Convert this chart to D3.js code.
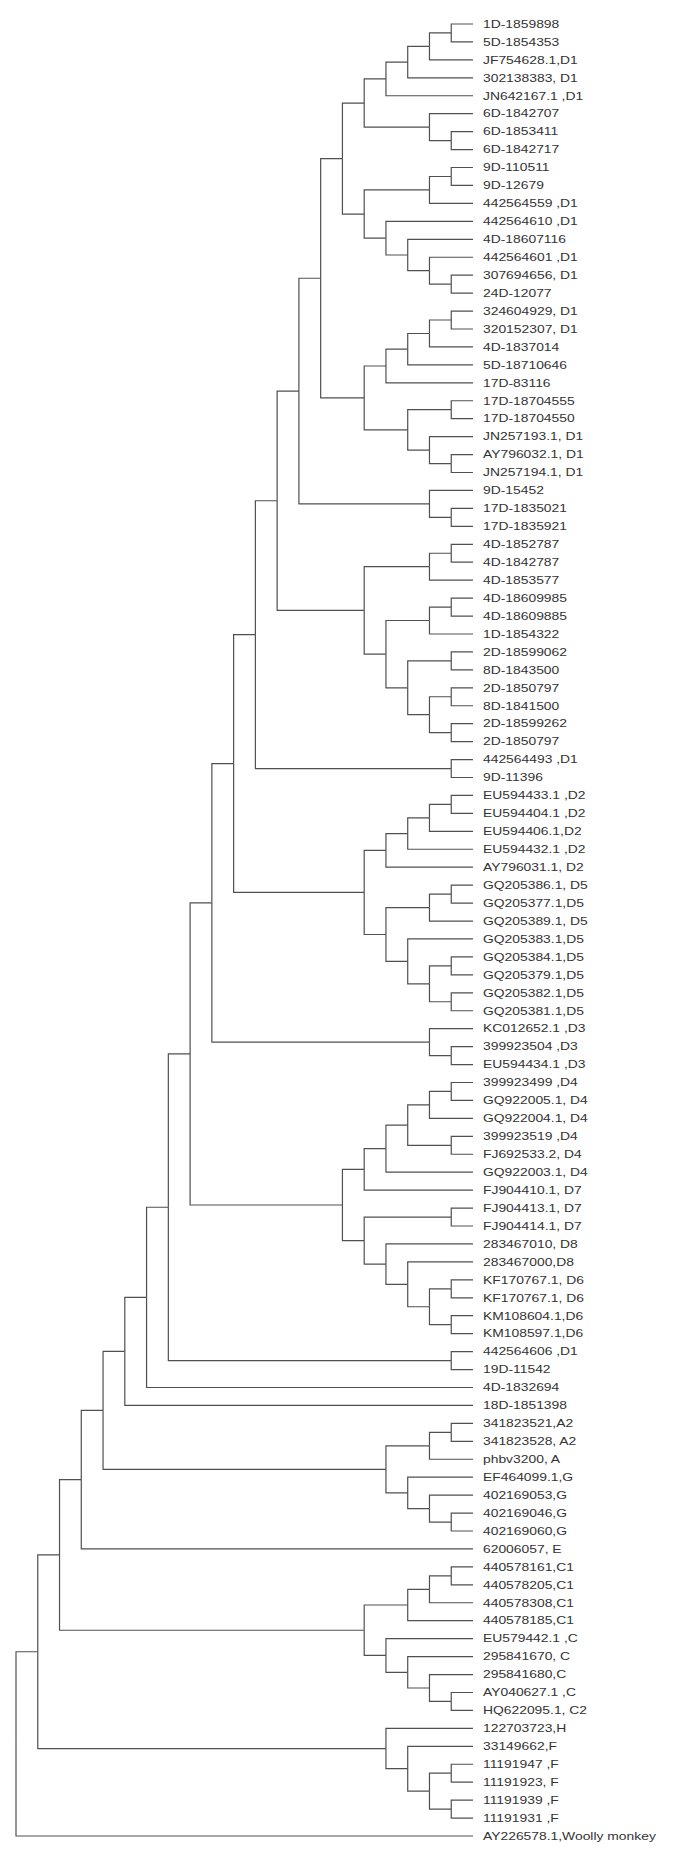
<!DOCTYPE html>
<html>
<head>
<meta charset="utf-8">
<script src="https://cdn.jsdelivr.net/npm/d3@7"></script>
<style>
  html, body { margin: 0; padding: 0; background: #fff; }
  svg { display: block; }
  .link { fill: none; stroke: #505050; stroke-width: 1.2px; }
  .label { font-family: "Liberation Sans", Arial, sans-serif; font-size: 10.5px; fill: #333; }
</style>
</head>
<body>
<svg id="chart" width="684" height="1859"></svg>
<script>
// ---- Tree data (clades, leaf labels as in the reference) ----
const cladeA = [[[["1D-1859898", "5D-1854353"], "JF754628.1,D1"], "302138383, D1"], "JN642167.1 ,D1"];
const cladeB = ["6D-1842707", ["6D-1853411", "6D-1842717"]];
const cladeC = [["9D-110511", "9D-12679"], "442564559 ,D1"];
const cladeD = ["442564610 ,D1", ["4D-18607116", ["442564601 ,D1", ["307694656, D1", "24D-12077"]]]];
const cladeG = [[[["324604929, D1", "320152307, D1"], "4D-1837014"], "5D-18710646"], "17D-83116"];
const cladeH = [["17D-18704555", "17D-18704550"], ["JN257193.1, D1", ["AY796032.1, D1", "JN257194.1, D1"]]];
const cladeI = ["9D-15452", ["17D-1835021", "17D-1835921"]];
const cladeM = [["4D-1852787", "4D-1842787"], "4D-1853577"];
const cladeO = [["4D-18609985", "4D-18609885"], "1D-1854322"];
const cladeP = [["2D-18599062", "8D-1843500"], [["2D-1850797", "8D-1841500"], ["2D-18599262", "2D-1850797"]]];
const cladeR = ["442564493 ,D1", "9D-11396"];
const cladeD2 = [[[["EU594433.1 ,D2", "EU594404.1 ,D2"], "EU594406.1,D2"], "EU594432.1 ,D2"], "AY796031.1, D2"];
const cladeD5 = [[["GQ205386.1, D5", "GQ205377.1,D5"], "GQ205389.1, D5"],
                 ["GQ205383.1,D5", [["GQ205384.1,D5", "GQ205379.1,D5"], ["GQ205382.1,D5", "GQ205381.1,D5"]]]];
const cladeD3 = ["KC012652.1 ,D3", ["399923504 ,D3", "EU594434.1 ,D3"]];
const cladeD4 = [[[[["399923499 ,D4", "GQ922005.1, D4"], "GQ922004.1, D4"], ["399923519 ,D4", "FJ692533.2, D4"]], "GQ922003.1, D4"], "FJ904410.1, D7"];
const cladeD6 = [["FJ904413.1, D7", "FJ904414.1, D7"],
                 ["283467010, D8", ["283467000,D8", [["KF170767.1, D6", "KF170767.1, D6"], ["KM108604.1,D6", "KM108597.1,D6"]]]]];
const cladeAG = [[["341823521,A2", "341823528, A2"], "phbv3200, A"], ["EF464099.1,G", ["402169053,G", ["402169046,G", "402169060,G"]]]];
const cladeC1 = [[["440578161,C1", "440578205,C1"], "440578308,C1"], "440578185,C1"];
const cladeC2 = ["EU579442.1 ,C", ["295841670, C", ["295841680,C", ["AY040627.1 ,C", "HQ622095.1, C2"]]]];
const cladeFH = ["122703723,H", ["33149662,F", [["11191947 ,F", "11191923, F"], ["11191939 ,F", "11191931 ,F"]]]];
const singles = ["442564606 ,D1", "19D-11542", "4D-1832694", "18D-1851398", "62006057, E", "AY226578.1,Woolly monkey"];

// assemble the topology
const cladeD1 = [[[[[[cladeA, cladeB], [cladeC, cladeD]], [cladeG, cladeH]], cladeI], [cladeM, [cladeO, cladeP]]], cladeR];
const cladeDall = [[[cladeD1, [cladeD2, cladeD5]], cladeD3], [cladeD4, cladeD6]];
const treeTopology = [[[[[[[[cladeDall, [singles[0], singles[1]]], singles[2]], singles[3]], cladeAG], singles[4]], [cladeC1, cladeC2]], cladeFH], singles[5]];

// ---- build hierarchy ----
function toNode(t) {
  return Array.isArray(t) ? { children: t.map(toNode) } : { name: t };
}
const root = d3.hierarchy(toNode(treeTopology));
d3.cluster().nodeSize([1, 1]).separation(() => 1)(root);

const leaves = root.leaves();
const maxDepthY = d3.max(root.descendants(), d => d.y);

const yScale = d3.scaleLinear()
  .domain(d3.extent(leaves, d => d.x))
  .range([24, 1836]);
const xScale = d3.scaleLinear()
  .domain([0, maxDepthY])
  .range([16, 473]);

const svg = d3.select("#chart");

// elbow links
svg.append("g")
  .selectAll("path")
  .data(root.links())
  .join("path")
  .attr("class", "link")
  .attr("d", l => `M${xScale(l.source.y)},${yScale(l.source.x)}V${yScale(l.target.x)}H${xScale(l.target.y)}`);

// leaf labels (horizontally widened like the reference)
const labels = svg.append("g")
  .selectAll("text")
  .data(leaves)
  .join("text")
  .attr("class", "label")
  .attr("x", d => xScale(d.y) + 10)
  .attr("y", d => yScale(d.x))
  .attr("dy", "0.36em")
  .text(d => d.data.name);

labels.each(function () {
  const w = this.getComputedTextLength();
  d3.select(this)
    .attr("textLength", w * 1.32)
    .attr("lengthAdjust", "spacingAndGlyphs");
});
</script>
</body>
</html>
